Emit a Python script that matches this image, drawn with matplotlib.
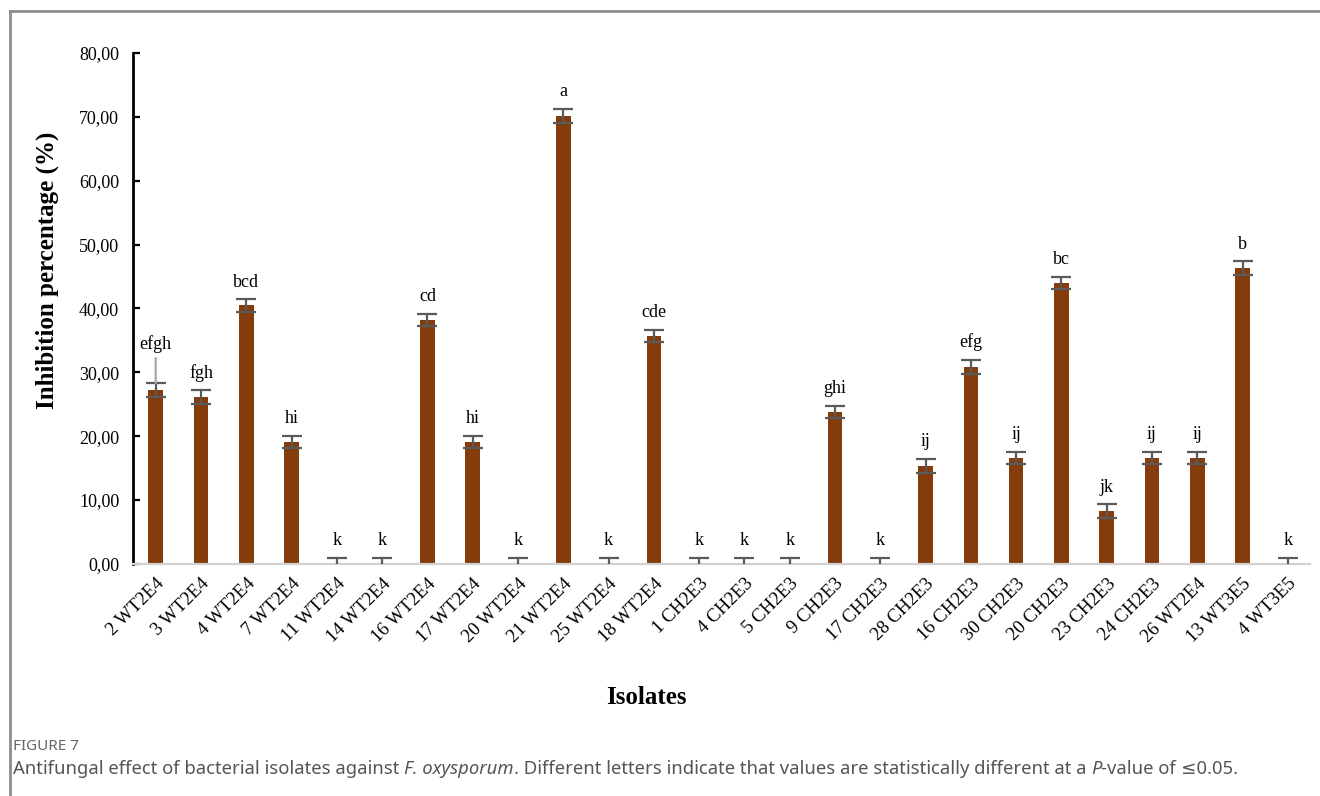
import matplotlib.pyplot as plt
from matplotlib.lines import Line2D
from matplotlib.ticker import FuncFormatter
import numpy as np

isolates = ['2 WT2E4', '3 WT2E4', '4 WT2E4', '7 WT2E4', '11 WT2E4', '14 WT2E4',
            '16 WT2E4', '17 WT2E4', '20 WT2E4', '21 WT2E4', '25 WT2E4', '18 WT2E4',
            '1 CH2E3', '4 CH2E3', '5 CH2E3', '9 CH2E3', '17 CH2E3', '28 CH2E3',
            '16 CH2E3', '30 CH2E3', '20 CH2E3', '23 CH2E3', '24 CH2E3', '26 WT2E4',
            '13 WT3E5', '4 WT3E5']
inhibition = [27.2, 26.1, 40.5, 19.1, 0.0, 0.0,
              38.2, 19.1, 0.0, 70.2, 0.0, 35.7,
              0.0, 0.0, 0.0, 23.8, 0.0, 15.4,
              30.9, 16.6, 44.0, 8.3, 16.6, 16.6,
              46.3, 0.0]
errors = [1.1, 1.1, 1.0, 1.0, 1.0, 1.0,
          1.0, 1.0, 1.0, 1.1, 1.0, 1.0,
          1.0, 1.0, 1.0, 1.0, 1.0, 1.1,
          1.1, 1.0, 1.0, 1.1, 1.0, 1.0,
          1.1, 1.0]
groups = ['efgh', 'fgh', 'bcd', 'hi', 'k', 'k',
          'cd', 'hi', 'k', 'a', 'k', 'cde',
          'k', 'k', 'k', 'ghi', 'k', 'ij',
          'efg', 'ij', 'bc', 'jk', 'ij', 'ij',
          'b', 'k']

serif = 'Liberation Serif'
sans = ['Noto Sans', 'DejaVu Sans']

fig = plt.figure(figsize=(13.2, 7.96), dpi=100)
ax = fig.add_axes([0.1008, 0.2915, 0.892, 0.642])

x = np.arange(len(isolates))
ax.bar(x, inhibition, width=0.32, color='#843C0C', zorder=2)
ax.errorbar(x, inhibition, yerr=errors, fmt='none', ecolor='#5a5a5a',
            elinewidth=1.6, capsize=7, capthick=1.6, zorder=3)

for i, (v, e, g) in enumerate(zip(inhibition, errors, groups)):
    if g == 'efgh':
        # letters lifted above a leader line
        ax.annotate(g, xy=(i, v + e), xytext=(0, 22), textcoords='offset points',
                    ha='center', va='bottom', fontsize=13, family=serif,
                    arrowprops=dict(arrowstyle='-', color='#a6a6a6', lw=1.6,
                                    shrinkA=2, shrinkB=0))
    else:
        ax.annotate(g, xy=(i, v + e), xytext=(0, 6), textcoords='offset points',
                    ha='center', va='bottom', fontsize=13, family=serif)

ax.set_xlim(-0.5, len(isolates) - 0.5)
ax.set_ylim(0, 80)
ax.set_yticks(np.arange(0, 81, 10))
ax.yaxis.set_major_formatter(FuncFormatter(lambda v, p: f'{v:.2f}'.replace('.', ',')))
ax.set_xticks(x)
ax.set_xticklabels(isolates, rotation=45, ha='right', rotation_mode='anchor',
                   family=serif, fontsize=13.5)
for lab in ax.get_yticklabels():
    lab.set_family(serif)
    lab.set_fontsize(13)
ax.tick_params(axis='y', direction='in', length=5, width=1.6, pad=10)
ax.tick_params(axis='x', length=0, pad=8)

for s in ['top', 'right']:
    ax.spines[s].set_visible(False)
ax.spines['left'].set_linewidth(2)
ax.spines['left'].set_color('black')
ax.spines['bottom'].set_color('#d0d0d0')
ax.spines['bottom'].set_linewidth(1.6)

fig.text(47 / 1320, 1 - 270 / 796, 'Inhibition percentage (%)', rotation=90,
         ha='center', va='center', family=serif, fontsize=18, fontweight='bold')
fig.text(646 / 1320, 1 - 698 / 796, 'Isolates', ha='center', va='center',
         family=serif, fontsize=18, fontweight='bold')

# frame lines along the top and left edges
fig.add_artist(Line2D([10 / 1320, 1], [1 - 11 / 796] * 2, color='#8c8c8c', lw=2))
fig.add_artist(Line2D([10 / 1320] * 2, [0, 1 - 11 / 796], color='#8c8c8c', lw=2))

# caption, with italic pieces chained one after another
cap_color = '#555555'
fig.text(13 / 1320, 1 - 746 / 796, 'FIGURE 7', family=sans, fontsize=11,
         color='#666666', va='center', fontweight='semibold')
pieces = [('Antifungal effect of bacterial isolates against ', 'normal'),
          ('F. oxysporum', 'italic'),
          ('. Different letters indicate that values are statistically different at a ', 'normal'),
          ('P', 'italic'),
          ('-value of ', 'normal'),
          ('\u22640.05.', 'normal')]
prev = fig.text(13 / 1320, 1 - 769 / 796, pieces[0][0], family=sans,
                fontsize=13.3, color=cap_color, va='center')
for txt, style in pieces[1:]:
    prev = ax.annotate(txt, xy=(1, 0), xycoords=prev, xytext=(0, 0),
                       textcoords='offset points', va='bottom', ha='left',
                       family=sans, fontsize=13.3, color=cap_color,
                       style=style, annotation_clip=False)

fig.savefig('out.png', dpi=100)
